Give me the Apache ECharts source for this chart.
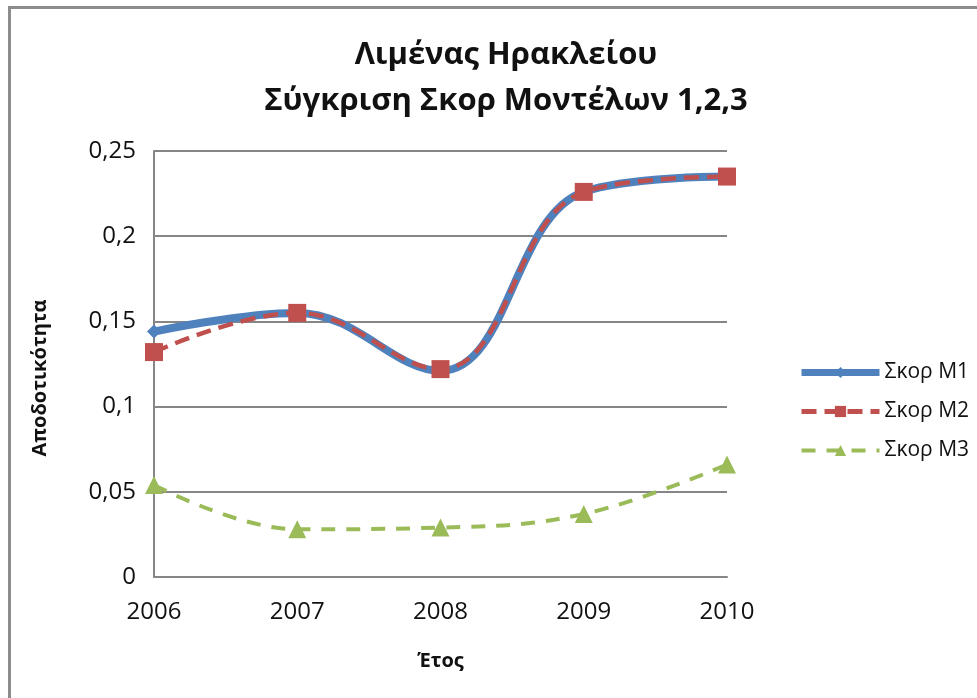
<!DOCTYPE html>
<html>
<head>
<meta charset="utf-8">
<script src="https://cdn.jsdelivr.net/npm/echarts@6/dist/echarts.min.js"></script>
<style>
    html, body { margin: 0; padding: 0; background: #fff; }
    #frame { position: absolute; left: 8px; top: 6px; width: 969px; height: 692px;
             border-left: 3px solid #8c8c8c; border-top: 3px solid #8c8c8c; }
    #chart { position: absolute; left: 0; top: 0; width: 977px; height: 698px; }
</style>
</head>
<body>
<div id="frame"></div>
<div id="chart"></div>
<script>
    // data
    var years = ['2006', '2007', '2008', '2009', '2010'];
    var scoreM1 = [0.144, 0.155, 0.121, 0.226, 0.235];
    var scoreM2 = [0.132, 0.155, 0.122, 0.226, 0.235];
    var scoreM3 = [0.054, 0.028, 0.029, 0.037, 0.066];
    var seriesNames = ['Σκορ Μ1', 'Σκορ Μ2', 'Σκορ Μ3'];

    var font = '"Open Sans", "Noto Sans", sans-serif';
    var axisGray = '#868686';
    var colors = ['#4F81BD', '#C0504D', '#9BBB59'];

    var chart = echarts.init(document.getElementById('chart'));

    chart.setOption({
        animation: false,
        textStyle: { fontFamily: font },
        title: {
            text: 'Λιμένας Ηρακλείου\nΣύγκριση Σκορ Μοντέλων 1,2,3',
            left: 501,
            textAlign: 'center',
            top: 27,
            textStyle: { fontSize: 31, fontWeight: 'bold', color: '#111', lineHeight: 46, fontFamily: font }
        },
        legend: {
            orient: 'vertical',
            left: 793,
            top: 357,
            itemWidth: 78,
            itemHeight: 14,
            itemGap: 18,
            textStyle: { fontSize: 21, color: '#111', fontFamily: font },
            data: [
                { name: seriesNames[0], lineStyle: { width: 7 } },
                { name: seriesNames[1], lineStyle: { width: 5 } },
                { name: seriesNames[2], lineStyle: { width: 4 } }
            ]
        },
        grid: { left: 154, right: 250, top: 151, bottom: 121 },
        xAxis: {
            type: 'category',
            data: years,
            boundaryGap: false,
            name: 'Έτος',
            nameLocation: 'middle',
            nameGap: 74,
            nameTextStyle: { fontSize: 20, fontWeight: 'bold', color: '#111', fontFamily: font },
            axisLine: { lineStyle: { color: axisGray, width: 2 } },
            axisTick: { show: false },
            axisLabel: { fontSize: 24, color: '#111', margin: 23, fontFamily: font }
        },
        yAxis: {
            type: 'value',
            min: 0,
            max: 0.25,
            interval: 0.05,
            name: 'Αποδοτικότητα',
            nameLocation: 'middle',
            nameGap: 104,
            nameTextStyle: { fontSize: 20, fontWeight: 'bold', color: '#111', fontFamily: font, padding: [0, 28, 0, 0] },
            axisLine: { show: true, lineStyle: { color: axisGray, width: 2 } },
            axisTick: { show: false },
            splitLine: { lineStyle: { color: axisGray, width: 2 } },
            axisLabel: {
                fontSize: 24, color: '#111', margin: 18, fontFamily: font,
                formatter: function (v) { return String(Math.round(v * 100) / 100).replace('.', ','); }
            }
        },
        series: [
            {
                name: seriesNames[0],
                type: 'line',
                data: scoreM1,
                smooth: 0.4,
                symbol: 'diamond',
                symbolSize: 14,
                itemStyle: { color: colors[0] },
                lineStyle: { color: colors[0], width: 8 },
                z: 2
            },
            {
                name: seriesNames[1],
                type: 'line',
                data: scoreM2,
                smooth: 0.4,
                symbol: 'rect',
                symbolSize: 18,
                itemStyle: { color: colors[1] },
                lineStyle: { color: colors[1], width: 4.5, type: [15, 8] },
                z: 3
            },
            {
                name: seriesNames[2],
                type: 'line',
                data: scoreM3,
                smooth: 0.4,
                symbol: 'triangle',
                symbolSize: 18,
                itemStyle: { color: colors[2] },
                lineStyle: { color: colors[2], width: 4, type: [14, 11] },
                z: 3
            }
        ]
    });
</script>
</body>
</html>
